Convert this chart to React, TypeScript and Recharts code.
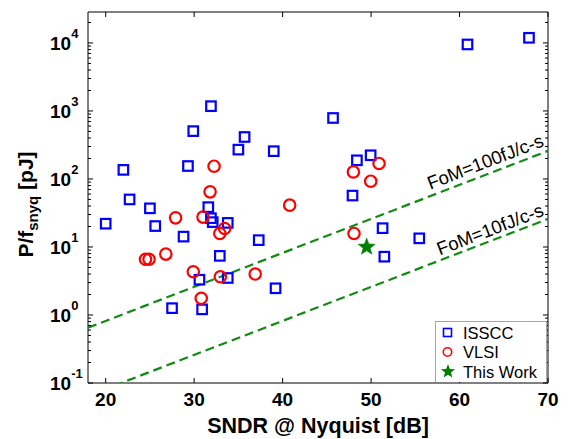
import React from 'react';
import { ScatterChart, Scatter, XAxis, YAxis, Legend, ReferenceDot } from 'recharts';

const isscc_x = [20.0, 22.0, 22.7, 25.0, 25.6, 28.8, 27.5, 29.3, 29.9, 31.9, 31.6, 31.9, 32.1, 33.8, 32.9, 33.8, 30.6, 30.9, 37.3, 39.2, 39.0, 35.0, 35.7, 45.7, 48.4, 49.95, 47.9, 51.3, 51.5, 55.45, 60.9, 67.85];
const isscc_y = [22, 136, 50, 37, 20.3, 14.2, 1.26, 155, 505, 1175, 38.5, 26.5, 23.2, 22.6, 7.4, 3.5, 3.3, 1.21, 12.6, 2.47, 256, 270, 414, 788, 188, 223, 57, 18.9, 7.2, 13.4, 9500, 11900];

const vlsi_x = [32.25, 31.8, 40.8, 27.9, 31.0, 32.9, 33.45, 24.5, 24.9, 26.8, 29.9, 32.96, 36.9, 30.8, 50.9, 48.0, 49.96, 48.07];
const vlsi_y = [154, 64.6, 41.2, 26.8, 27.5, 15.8, 18.7, 6.6, 6.6, 7.86, 4.32, 3.65, 4.0, 1.76, 169, 127, 92.7, 15.8];

const work_x = [49.5];
const work_y = [10];

const fom_x = [18, 70];
const fom100_y = [0.65, 259];
const fom10_y = [0.065, 25.9];

const fomLabels = ['FoM=100fJ/c-s', 'FoM=10fJ/c-s'];
const fomLabel_x = [62.9, 63.45];
const fomLabel_y = [180, 18.2];

const xTicks = [20, 30, 40, 50, 60, 70];
const yMajor = [0.1, 1, 10, 100, 1000, 10000];
const yExp = ['-1', '0', '1', '2', '3', '4'];
const yMax = 28500;

const legendNames = ['ISSCC', 'VLSI', 'This Work'];

const yTicks: number[] = [];
yMajor.forEach((m) => {
  for (let k = 1; k <= 9; k++) {
    const v = k * m;
    if (v <= yMax) yTicks.push(v);
  }
});

const zip = (xs: number[], ys: number[]) => xs.map((x, i) => ({ x, y: ys[i] }));
const isscc = zip(isscc_x, isscc_y);
const vlsi = zip(vlsi_x, vlsi_y);
const work = zip(work_x, work_y);
const fom100 = zip(fom_x, fom100_y);
const fom10 = zip(fom_x, fom10_y);

const FONT = '"Liberation Sans", Arial, Helvetica, sans-serif';
const BLUE = '#0000ff';
const RED = '#ff0000';
const GREEN = '#008000';
const LINE_GREEN = '#138a13';

const majorIndex = (v: number) => yMajor.findIndex((m) => Math.abs(v - m) / m < 1e-6);

const starPath = (cx: number, cy: number, R: number) => {
  const r = R * 0.42;
  let d = '';
  for (let i = 0; i < 10; i++) {
    const rad = i % 2 === 0 ? R : r;
    const a = -Math.PI / 2 + (i * Math.PI) / 5;
    d += (i === 0 ? 'M' : 'L') + (cx + rad * Math.cos(a)).toFixed(2) + ',' + (cy + rad * Math.sin(a)).toFixed(2);
  }
  return d + 'Z';
};

const LeftTick = (props: any) => {
  const { x, y, payload } = props;
  const idx = majorIndex(payload.value);
  const major = idx >= 0;
  return (
    <g>
      <line x1={x} x2={x + (major ? 5 : 3)} y1={y} y2={y} stroke="#000" strokeWidth={1} />
      {major && (
        <text x={x - 38} y={y + 7} textAnchor="start" fontFamily={FONT} fontWeight="bold" fontSize={19} fill="#000">
          10
          <tspan dy={-12} fontSize={13}>{yExp[idx]}</tspan>
        </text>
      )}
    </g>
  );
};

const RightTick = (props: any) => {
  const { x, y, payload } = props;
  const major = majorIndex(payload.value) >= 0;
  return <line x1={x} x2={x - (major ? 5 : 3)} y1={y} y2={y} stroke="#000" strokeWidth={1} />;
};

const BottomTick = (props: any) => {
  const { x, y, payload } = props;
  return (
    <g>
      <line x1={x} x2={x} y1={y} y2={y - 5} stroke="#000" strokeWidth={1} />
      <text x={x} y={y + 23} textAnchor="middle" fontFamily={FONT} fontWeight="bold" fontSize={19} fill="#000">
        {payload.value}
      </text>
    </g>
  );
};

const TopTick = (props: any) => {
  const { x, y } = props;
  return <line x1={x} x2={x} y1={y} y2={y + 5} stroke="#000" strokeWidth={1} />;
};

const XTitle = (props: any) => {
  const { viewBox } = props;
  const cx = viewBox.x + viewBox.width / 2;
  return (
    <text x={cx} y={viewBox.y + 50} textAnchor="middle" fontFamily={FONT} fontWeight="bold" fontSize={21.5} fill="#000">
      SNDR @ Nyquist [dB]
    </text>
  );
};

const YTitle = (props: any) => {
  const { viewBox } = props;
  const cx = 33;
  const cy = viewBox.y + viewBox.height / 2 + 7;
  return (
    <text
      x={cx}
      y={cy}
      transform={`rotate(-90, ${cx}, ${cy})`}
      textAnchor="middle"
      fontFamily={FONT}
      fontWeight="bold"
      fontSize={21}
      fill="#000"
    >
      P/f
      <tspan dy={5} fontSize={15}>snyq</tspan>
      <tspan dy={-5}> [pJ]</tspan>
    </text>
  );
};

const FomLabel = (text: string) => (props: any) => {
  const { viewBox } = props;
  const cx = viewBox.x + (viewBox.width || 0) / 2;
  const cy = viewBox.y + (viewBox.height || 0) / 2;
  return (
    <text
      x={cx}
      y={cy}
      transform={`rotate(-21, ${cx}, ${cy})`}
      textAnchor="middle"
      dominantBaseline="central"
      fontFamily={FONT}
      fontSize={18.5}
      fill="#000"
    >
      {text}
    </text>
  );
};

const Square = (props: any) => {
  const { cx, cy } = props;
  if (cx == null || cy == null) return <g />;
  return <rect x={cx - 4.75} y={cy - 4.75} width={9.5} height={9.5} fill="none" stroke={BLUE} strokeWidth={2.2} />;
};
const Circle = (props: any) => {
  const { cx, cy } = props;
  if (cx == null || cy == null) return <g />;
  return <circle cx={cx} cy={cy} r={5.7} fill="none" stroke={RED} strokeWidth={2.2} />;
};
const Star = (props: any) => {
  const { cx, cy } = props;
  if (cx == null || cy == null) return <g />;
  return <path d={starPath(cx, cy, 9)} fill={GREEN} stroke={GREEN} strokeWidth={0.5} />;
};
const NoShape = () => <g />;

const LegendBox = () => {
  const rowY = [11.5, 31, 50.5];
  return (
    <svg width={112} height={61} style={{ display: 'block' }}>
      <rect x={0.5} y={0.5} width={111} height={61} fill="#fff" stroke="#a6a6a6" strokeWidth={1} />
      <rect x={12.5 - 4} y={rowY[0] - 4} width={8} height={8} fill="none" stroke={BLUE} strokeWidth={1.6} />
      <circle cx={12.5} cy={rowY[1]} r={4.2} fill="none" stroke={RED} strokeWidth={1.6} />
      <path d={starPath(13, rowY[2], 7.5)} fill={GREEN} />
      {legendNames.map((n, i) => (
        <text key={n} x={28} y={rowY[i]} dominantBaseline="central" fontFamily={FONT} fontSize={16.5} fill="#000">
          {n}
        </text>
      ))}
    </svg>
  );
};

export default function App() {
  return (
    <div style={{ position: 'absolute', left: 0, top: 0, width: 568, height: 439, background: '#fff' }}>
      <ScatterChart width={568} height={439} margin={{ top: 11, right: 19, bottom: 0, left: 0 }}>
        <XAxis
          xAxisId="b"
          dataKey="x"
          type="number"
          domain={[18, 70]}
          ticks={xTicks}
          interval={0}
          allowDataOverflow
          orientation="bottom"
          height={56}
          tickSize={0}
          tickMargin={0}
          tick={<BottomTick />}
          axisLine={{ stroke: '#000', strokeWidth: 1 }}
          tickLine={false}
          label={<XTitle />}
        />
        <XAxis
          xAxisId="t"
          dataKey="x"
          type="number"
          domain={[18, 70]}
          ticks={xTicks}
          interval={0}
          allowDataOverflow
          orientation="top"
          height={1}
          tickSize={0}
          tickMargin={0}
          tick={<TopTick />}
          axisLine={{ stroke: '#000', strokeWidth: 1 }}
          tickLine={false}
        />
        <YAxis
          yAxisId="l"
          dataKey="y"
          type="number"
          scale="log"
          domain={[0.1, yMax]}
          ticks={yTicks}
          interval={0}
          allowDataOverflow
          orientation="left"
          width={88}
          tickSize={0}
          tickMargin={0}
          tick={<LeftTick />}
          axisLine={{ stroke: '#000', strokeWidth: 1 }}
          tickLine={false}
          label={<YTitle />}
        />
        <YAxis
          yAxisId="r"
          dataKey="y"
          type="number"
          scale="log"
          domain={[0.1, yMax]}
          ticks={yTicks}
          interval={0}
          allowDataOverflow
          orientation="right"
          width={1}
          tickSize={0}
          tickMargin={0}
          tick={<RightTick />}
          axisLine={{ stroke: '#000', strokeWidth: 1 }}
          tickLine={false}
        />
        <Scatter
          name="frame"
          data={work}
          xAxisId="t"
          yAxisId="r"
          shape={<NoShape />}
          legendType="none"
          isAnimationActive={false}
        />
        <Scatter
          name="FoM100"
          data={fom100}
          xAxisId="b"
          yAxisId="l"
          shape={<NoShape />}
          line={{ stroke: LINE_GREEN, strokeWidth: 2.2, strokeDasharray: '9 5', fill: 'none' }}
          lineType="joint"
          legendType="none"
          isAnimationActive={false}
        />
        <Scatter
          name="FoM10"
          data={fom10}
          xAxisId="b"
          yAxisId="l"
          shape={<NoShape />}
          line={{ stroke: LINE_GREEN, strokeWidth: 2.2, strokeDasharray: '9 5', fill: 'none' }}
          lineType="joint"
          legendType="none"
          isAnimationActive={false}
        />
        <Scatter name="ISSCC" data={isscc} xAxisId="b" yAxisId="l" shape={<Square />} isAnimationActive={false} />
        <Scatter name="VLSI" data={vlsi} xAxisId="b" yAxisId="l" shape={<Circle />} isAnimationActive={false} />
        <Scatter name="This Work" data={work} xAxisId="b" yAxisId="l" shape={<Star />} isAnimationActive={false} />
        {fomLabels.map((t, i) => (
          <ReferenceDot
            key={t}
            x={fomLabel_x[i]}
            y={fomLabel_y[i]}
            xAxisId="b"
            yAxisId="l"
            r={0}
            fill="none"
            stroke="none"
            label={FomLabel(t)}
          />
        ))}
        <Legend
          layout="horizontal"
          verticalAlign="middle"
          align="center"
          content={() => <LegendBox />}
          wrapperStyle={{ left: 435, top: 321, width: 112, height: 61 }}
        />
      </ScatterChart>
    </div>
  );
}
